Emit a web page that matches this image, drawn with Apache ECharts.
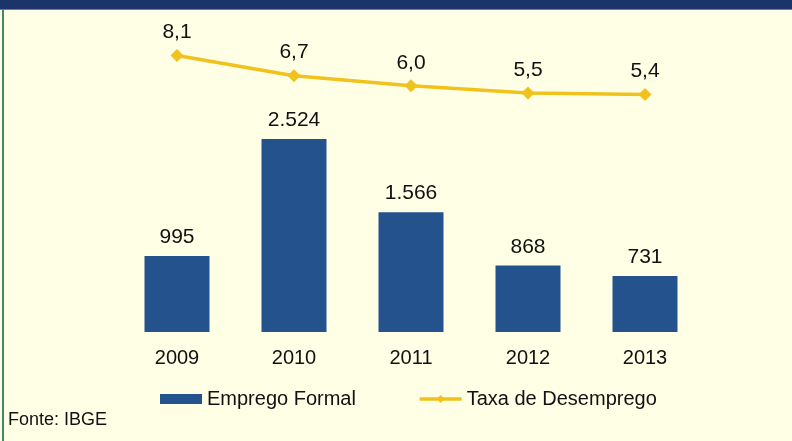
<!DOCTYPE html>
<html>
<head>
<meta charset="utf-8">
<script src="https://cdn.jsdelivr.net/npm/echarts@6/dist/echarts.min.js"></script>
<style>
  html, body { margin: 0; padding: 0; background: #ffffe6; }
  #chart { width: 792px; height: 441px; }
</style>
</head>
<body>
<div id="chart"></div>
<script>
// dados
const anos = ['2009', '2010', '2011', '2012', '2013']
const empregoFormal = [995, 2524, 1566, 868, 731]
const taxaDesemprego = [8.1, 6.7, 6.0, 5.5, 5.4]

const fmtMil = v => String(v).replace(/\B(?=(\d{3})+(?!\d))/g, '.')
const fmtDec = v => v.toFixed(1).replace('.', ',')

const fonte = 'Liberation Sans, Arial, sans-serif'

let myChart = echarts.init(document.getElementById('chart'))
myChart.setOption({
  backgroundColor: '#ffffe6',
  textStyle: { fontFamily: fonte },
  animation: false,
  graphic: [
    { type: 'rect', shape: { x: 0, y: 0, width: 792, height: 9 }, style: { fill: '#1b346a' } },
    { type: 'rect', shape: { x: 0, y: 9, width: 792, height: 1 }, style: { fill: '#6a8a6a' } },
    { type: 'rect', shape: { x: 2, y: 9, width: 2, height: 432 }, style: { fill: '#3f8a6a' } },
    {
      type: 'text', left: 8, top: 411,
      style: { text: 'Fonte: IBGE', fontSize: 18, fill: '#111', fontFamily: fonte }
    }
  ],
  grid: { left: 118.5, right: 88.5, top: 26, bottom: 109 },
  legend: {
    top: 384,
    left: 155,
    itemGap: 62,
    itemWidth: 42,
    itemHeight: 10,
    textStyle: { fontSize: 20, color: '#111' },
    data: [
      { name: 'Emprego Formal', icon: 'rect' },
      { name: 'Taxa de Desemprego', itemStyle: { color: '#f1c21b' }, lineStyle: { width: 3.5 } }
    ]
  },
  xAxis: {
    type: 'category',
    data: anos,
    axisLine: { show: false },
    axisTick: { show: false },
    axisLabel: { fontSize: 20, color: '#111', margin: 16 }
  },
  yAxis: [
    { type: 'value', min: 0, max: 4000, show: false },
    { type: 'value', min: -11.1, max: 10.15, show: false }
  ],
  series: [
    {
      name: 'Emprego Formal',
      type: 'bar',
      data: empregoFormal,
      barWidth: 65,
      itemStyle: { color: '#23528c' },
      label: {
        show: true, position: 'top', distance: 8,
        fontSize: 21, color: '#111',
        formatter: p => fmtMil(p.value)
      }
    },
    {
      name: 'Taxa de Desemprego',
      type: 'line',
      yAxisIndex: 1,
      data: taxaDesemprego,
      symbol: 'diamond',
      symbolSize: 13,
      lineStyle: { color: '#f1c21b', width: 3.5 },
      itemStyle: { color: '#f1c21b' },
      label: {
        show: true, position: 'top', distance: 6,
        fontSize: 21, color: '#111',
        formatter: p => fmtDec(p.value)
      }
    }
  ]
})
</script>
</body>
</html>
